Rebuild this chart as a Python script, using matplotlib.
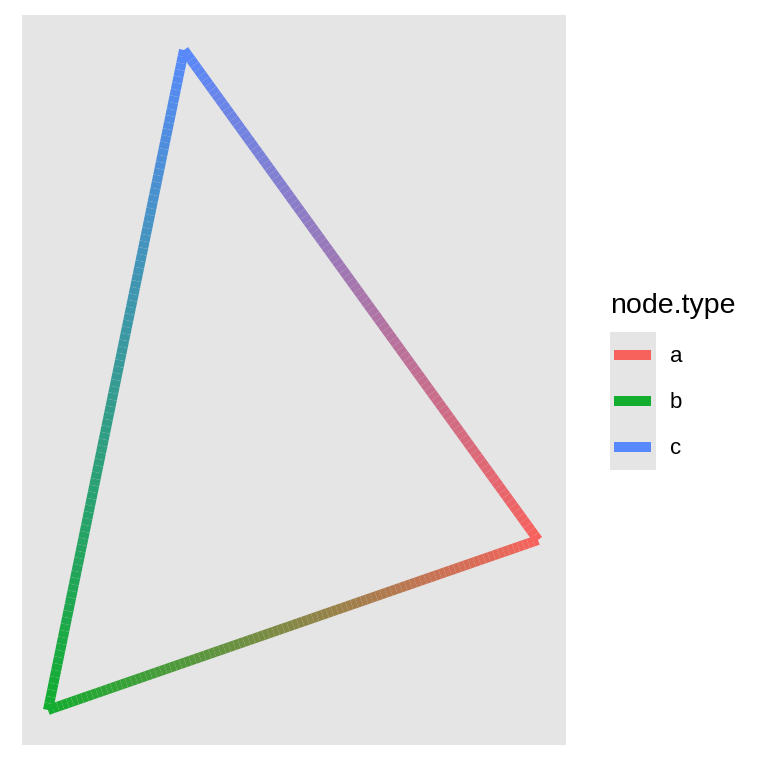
import numpy as np
import matplotlib.pyplot as plt
from matplotlib.collections import LineCollection
from matplotlib.colors import to_rgb

plt.rcParams['font.family'] = ['Liberation Sans', 'DejaVu Sans']

# nodes (layout coordinates)
node_names = ['a', 'b', 'c']
node_x = [538, 48, 184]
node_y = [228, 58, 718]
node_type = ['a', 'b', 'c']
type_colors = {'a': '#F8625D', 'b': '#13AD2F', 'c': '#5889FA'}

# edges as (from, to)
edge_from = [0, 1, 2]
edge_to = [1, 2, 0]

n_seg = 100

fig = plt.figure(figsize=(7.68, 7.68), dpi=100)
W = H = 768.0
ax = fig.add_axes([22 / W, 23 / H, 544 / W, 730 / H])
ax.set_facecolor('#E5E5E5')
ax.set_xlim(22, 566)
ax.set_ylim(23, 753)
ax.set_xticks([])
ax.set_yticks([])
for s in ax.spines.values():
    s.set_visible(False)

for f, t in zip(edge_from, edge_to):
    t_vals = np.linspace(0, 1, n_seg + 1)
    xs = node_x[f] + (node_x[t] - node_x[f]) * t_vals
    ys = node_y[f] + (node_y[t] - node_y[f]) * t_vals
    pts = np.column_stack([xs, ys]).reshape(-1, 1, 2)
    segs = np.concatenate([pts[:-1], pts[1:]], axis=1)
    c0 = np.array(to_rgb(type_colors[node_type[f]]))
    c1 = np.array(to_rgb(type_colors[node_type[t]]))
    mids = (t_vals[:-1] + t_vals[1:]) / 2
    cols = [c0 + (c1 - c0) * m for m in mids]
    lc = LineCollection(segs, colors=cols, linewidths=7.2, capstyle='butt')
    ax.add_collection(lc)

# legend
fig.text(610 / W, 1 - 306 / H, 'node.type', fontsize=20.5, va='center', ha='left')
lax = fig.add_axes([610 / W, 1 - 470 / H, 46 / W, 138 / H])
lax.set_facecolor('#E5E5E5')
lax.set_xlim(0, 46)
lax.set_ylim(138, 0)
lax.set_xticks([])
lax.set_yticks([])
for s in lax.spines.values():
    s.set_visible(False)
for i, name in enumerate(node_names):
    yc = 23 + 46 * i
    lax.plot([4, 41], [yc, yc], color=type_colors[name], lw=7.2, solid_capstyle='butt')
    fig.text(670 / W, 1 - (334 + yc) / H, name, fontsize=16, va='center', ha='left')

fig.savefig('out.png', dpi=100)
